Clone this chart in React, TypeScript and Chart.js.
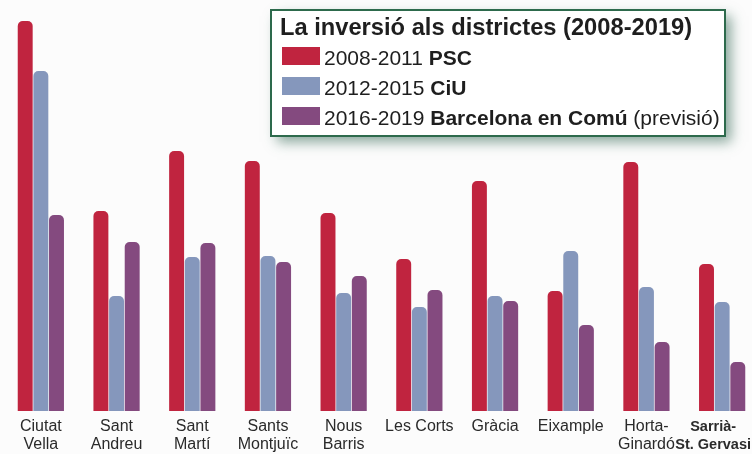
import React, { useEffect, useRef } from "react";
import { Chart, registerables } from "chart.js";

Chart.register(...registerables);

const districts: (string | string[])[] = [
  ["Ciutat", "Vella"],
  ["Sant", "Andreu"],
  ["Sant", "Martí"],
  ["Sants", "Montjuïc"],
  ["Nous", "Barris"],
  "Les Corts",
  "Gràcia",
  "Eixample",
  ["Horta-", "Ginardó"],
  ["Sarrià-", "St. Gervasi"],
];

const psc2008 = [390, 200, 260, 250, 198, 152, 230, 120, 249, 147];
const ciu2012 = [340, 115, 154, 155, 118, 104, 115, 160, 124, 109];
const bcomu2016 = [196, 169, 168, 149, 135, 121, 110, 86, 69, 49];

const legendTitle = "La inversió als districtes (2008-2019)";
const legendRows: { color: string; parts: { text: string; bold: boolean }[] }[] = [
  { color: "#c0243f", parts: [{ text: "2008-2011 ", bold: false }, { text: "PSC", bold: true }] },
  { color: "#8597bc", parts: [{ text: "2012-2015 ", bold: false }, { text: "CiU", bold: true }] },
  {
    color: "#844a7f",
    parts: [
      { text: "2016-2019 ", bold: false },
      { text: "Barcelona en Comú", bold: true },
      { text: " (previsió)", bold: false },
    ],
  },
];

const FONT = "'Liberation Sans', Arial, sans-serif";
const VIEW_RIGHT = 751;

const legendPlugin = {
  id: "boxLegend",
  beforeDraw(chart: any) {
    // keep the last (bold) district label inside the visible page
    const s = chart.scales.x;
    const items = s.getLabelItems(chart.chartArea);
    const it = items[items.length - 1];
    if (!it) return;
    const ctx = chart.ctx;
    ctx.save();
    ctx.font = it.font.string;
    const lines = Array.isArray(it.label) ? it.label : [it.label];
    const w = Math.max(...lines.map((l: string) => ctx.measureText(l).width));
    ctx.restore();
    const right = it.options.translation[0] + w / 2;
    if (right > VIEW_RIGHT) it.options.translation[0] -= right - VIEW_RIGHT;
  },
  afterDraw(chart: Chart) {
    const ctx = chart.ctx;
    ctx.save();
    const x0 = 271, y0 = 10, w = 454, h = 126;
    ctx.shadowColor = "rgba(40, 95, 75, 0.55)";
    ctx.shadowBlur = 12;
    ctx.shadowOffsetX = 6;
    ctx.shadowOffsetY = 6;
    ctx.fillStyle = "#ffffff";
    ctx.fillRect(x0, y0, w, h);
    ctx.shadowColor = "transparent";
    ctx.shadowBlur = 0;
    ctx.shadowOffsetX = 0;
    ctx.shadowOffsetY = 0;
    ctx.strokeStyle = "#2d6a4c";
    ctx.lineWidth = 2;
    ctx.strokeRect(x0, y0, w, h);

    ctx.fillStyle = "#1e1e1e";
    ctx.textBaseline = "alphabetic";
    ctx.textAlign = "left";
    ctx.font = `bold 23.7px ${FONT}`;
    ctx.fillText(legendTitle, 280, 34.5);

    legendRows.forEach((row, i) => {
      const top = 47 + i * 30;
      ctx.fillStyle = row.color;
      ctx.fillRect(282, top, 38, 18);
      let x = 324;
      row.parts.forEach((p) => {
        ctx.font = `${p.bold ? "bold " : ""}21px ${FONT}`;
        ctx.fillStyle = "#1e1e1e";
        ctx.fillText(p.text, x, top + 17.5);
        x += ctx.measureText(p.text).width;
      });
    });
    ctx.restore();
  },
};

export default function App() {
  const ref = useRef<HTMLCanvasElement | null>(null);

  useEffect(() => {
    document.body.style.margin = "0";
    const canvas = ref.current;
    if (!canvas) return;
    const chart = new Chart(canvas, {
      type: "bar",
      data: {
        labels: districts,
        datasets: [
          { label: "2008-2011 PSC", data: psc2008, backgroundColor: "#c0243f" },
          { label: "2012-2015 CiU", data: ciu2012, backgroundColor: "#8597bc" },
          { label: "2016-2019 Barcelona en Comú (previsió)", data: bcomu2016, backgroundColor: "#844a7f" },
        ],
      },
      options: {
        responsive: false,
        animation: false,
        devicePixelRatio: 1,
        layout: { padding: { left: 3, right: 2, top: 11, bottom: 0 } },
        datasets: {
          bar: {
            categoryPercentage: 0.62,
            barPercentage: 0.955,
            borderRadius: 5,
            borderSkipped: "start",
          },
        },
        plugins: {
          legend: { display: false },
          tooltip: { enabled: false },
          title: { display: false },
        },
        scales: {
          y: { display: false, min: 0, max: 400 },
          x: {
            grid: { display: false, drawTicks: false },
            border: { display: false },
            afterFit: (s: any) => {
              s.height = 43;
              s.paddingLeft = 0;
              s.paddingRight = 0;
            },
            ticks: {
              padding: 7,
              maxRotation: 0,
              autoSkip: false,
              color: "#2a2a2a",
              font: (c: any) =>
                c.index === 9
                  ? { family: FONT, size: 14.5, lineHeight: "18px", weight: "bold" }
                  : { family: FONT, size: 16, lineHeight: "18px", weight: "normal" },
            },
          },
        },
      },
      plugins: [legendPlugin],
    });
    return () => chart.destroy();
  }, []);

  return (
    <div
      style={{
        position: "fixed",
        left: 0,
        top: 0,
        width: 752,
        height: 454,
        overflow: "hidden",
        background: "#fcfcfc",
      }}
    >
      <canvas ref={ref} width={762} height={454} style={{ display: "block" }} />
    </div>
  );
}
